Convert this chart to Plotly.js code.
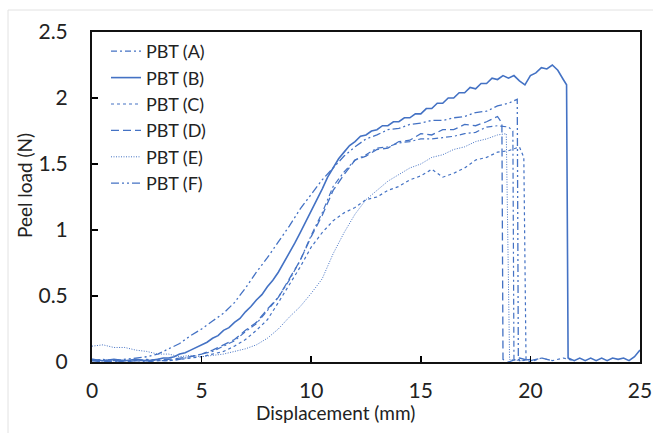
<!DOCTYPE html>
<html><head><meta charset="utf-8">
<script src="https://cdn.plot.ly/plotly-3.0.1.min.js"></script>
<style>html,body{margin:0;padding:0;background:#fff;}#chart{width:653px;height:433px;}</style>
</head><body><div id="chart"></div>
<script>
// Series names
const seriesNames = ["PBT (A)", "PBT (B)", "PBT (C)", "PBT (D)", "PBT (E)", "PBT (F)"];

// PBT (A)
const aX = [0,0.5,1,1.5,2,2.5,3,3.5,4,4.5,5,5.5,6,6.5,7,7.5,8,8.5,9,9.5,10,10.5,11,11.5,12,12.5,13,13.5,14,14.5,15,15.5,16,16.5,17,17.5,18,18.5,19,19.2,19.25,19.5,20];
const aY = [0.01,0.01,0.00,0.01,0.01,0.00,0.01,0.01,0.02,0.04,0.06,0.08,0.12,0.16,0.23,0.29,0.39,0.49,0.62,0.77,0.96,1.13,1.33,1.44,1.53,1.57,1.62,1.63,1.66,1.67,1.69,1.69,1.70,1.71,1.73,1.74,1.78,1.79,1.78,1.75,0.02,0.01,0.02];

// PBT (B)
const bX = [0,0.5,1,1.5,2,2.5,3,3.25,3.5,3.75,4,4.25,4.5,4.75,5,5.25,5.5,5.75,6,6.25,6.5,6.75,7,7.25,7.5,7.75,8,8.25,8.5,8.75,9,9.25,9.5,9.75,10,10.25,10.5,10.75,11,11.25,11.5,11.75,12,12.25,12.5,12.75,13,13.25,13.5,13.75,14,14.25,14.5,14.75,15,15.25,15.5,15.75,16,16.25,16.5,16.75,17,17.25,17.5,17.75,18,18.25,18.5,18.75,19,19.25,19.5,19.75,20,20.25,20.5,20.75,21,21.25,21.5,21.65,21.72,22,22.25,22.5,22.75,23,23.25,23.5,23.75,24,24.25,24.5,24.75,25];
const bY = [0.02,0.01,0.02,0.01,0.02,0.01,0.02,0.03,0.03,0.04,0.06,0.07,0.09,0.11,0.13,0.15,0.18,0.20,0.24,0.26,0.30,0.33,0.38,0.42,0.47,0.51,0.57,0.62,0.68,0.75,0.82,0.90,0.98,1.06,1.14,1.23,1.31,1.40,1.47,1.54,1.59,1.64,1.67,1.71,1.72,1.75,1.76,1.79,1.79,1.82,1.82,1.85,1.85,1.88,1.88,1.92,1.92,1.96,1.96,2.00,2.00,2.04,2.04,2.08,2.07,2.11,2.11,2.15,2.14,2.17,2.15,2.17,2.13,2.10,2.17,2.19,2.23,2.22,2.25,2.21,2.14,2.10,0.03,0.01,0.03,0.01,0.03,0.01,0.03,0.01,0.03,0.02,0.03,0.01,0.04,0.09];

// PBT (C)
const cX = [0,0.5,1,1.5,2,2.5,3,3.5,4,4.5,5,5.5,6,6.5,7,7.5,8,8.5,9,9.5,10,10.5,11,11.5,12,12.5,13,13.5,14,14.5,15,15.5,16,16.5,17,17.5,18,18.5,19,19.5,19.7,19.8,20,20.5,21,21.5,22];
const cY = [0.02,0.01,0.02,0.01,0.01,0.02,0.01,0.01,0.02,0.03,0.04,0.06,0.08,0.12,0.17,0.24,0.32,0.45,0.58,0.72,0.87,0.98,1.07,1.13,1.17,1.23,1.25,1.30,1.33,1.38,1.41,1.46,1.40,1.43,1.47,1.53,1.55,1.59,1.60,1.63,1.55,0.02,0.00,0.03,0.01,0.03,0.01];

// PBT (D)
const dX = [0,0.5,1,1.5,2,2.5,3,3.5,4,4.5,5,5.5,6,6.5,7,7.5,8,8.5,9,9.5,10,10.5,11,11.5,12,12.5,13,13.5,14,14.5,15,15.5,16,16.5,17,17.5,18,18.5,18.7,18.75,19,19.5,20,20.5,21];
const dY = [0.01,0.00,0.01,0.00,0.01,0.01,0.02,0.02,0.03,0.04,0.06,0.09,0.13,0.17,0.24,0.30,0.40,0.49,0.63,0.77,0.95,1.11,1.30,1.42,1.53,1.56,1.61,1.62,1.67,1.68,1.73,1.72,1.76,1.76,1.80,1.79,1.82,1.86,1.81,0.02,0.00,0.03,0.01,0.03,0.01];

// PBT (E)
const eX = [0,0.5,1,1.5,2,2.5,3,3.5,4,4.5,5,5.5,6,6.5,7,7.5,8,8.5,9,9.5,10,10.5,11,11.5,12,12.5,13,13.5,14,14.5,15,15.5,16,16.5,17,17.5,18,18.5,18.9,19.05,19.5,20];
const eY = [0.12,0.13,0.11,0.11,0.09,0.08,0.06,0.06,0.04,0.05,0.04,0.05,0.06,0.08,0.10,0.13,0.18,0.25,0.34,0.42,0.52,0.63,0.82,0.98,1.12,1.23,1.30,1.37,1.42,1.47,1.50,1.55,1.57,1.61,1.63,1.67,1.69,1.72,1.73,0.02,0.01,0.02];

// PBT (F)
const fX = [0,0.5,1,1.5,2,2.5,3,3.5,4,4.5,5,5.5,6,6.5,7,7.5,8,8.5,9,9.5,10,10.5,11,11.5,12,12.5,13,13.5,14,14.5,15,15.5,16,16.5,17,17.5,18,18.5,19,19.4,19.45,19.6,20];
const fY = [0.01,0.02,0.01,0.02,0.03,0.04,0.06,0.10,0.14,0.20,0.25,0.31,0.37,0.45,0.56,0.68,0.79,0.91,1.03,1.16,1.27,1.38,1.47,1.56,1.63,1.69,1.72,1.76,1.77,1.80,1.81,1.83,1.83,1.85,1.86,1.89,1.90,1.94,1.96,1.99,0.02,0.01,0.02];

const xTicks = [0,5,10,15,20,25];
const yTicks = [0,0.5,1,1.5,2,2.5];

const blue = '#4472C4';
const FONT = 'Lato, "Open Sans", sans-serif';

const traces = [
  {x:aX, y:aY, name:seriesNames[0], line:{color:blue, width:1.2, dash:'6px,3px,2px,3px'}},
  {x:bX, y:bY, name:seriesNames[1], line:{color:blue, width:1.6}},
  {x:cX, y:cY, name:seriesNames[2], line:{color:blue, width:1.2, dash:'3px,3px'}},
  {x:dX, y:dY, name:seriesNames[3], line:{color:blue, width:1.3, dash:'8px,4px'}},
  {x:eX, y:eY, name:seriesNames[4], line:{color:blue, width:1, dash:'1px,1.5px'}},
  {x:fX, y:fY, name:seriesNames[5], line:{color:blue, width:1.3, dash:'8px,3px,2px,3px,2px,3px'}}
].map(t => Object.assign({type:'scatter', mode:'lines'}, t));

// pixel helpers for paper coords of plot area (l=92, r=640, t=32, b=362)
const px2x = p => (p - 92) / 548;
const px2y = p => (362 - p) / 330;

const layout = {
  width:653, height:433,
  margin:{l:92, r:13, t:32, b:71, pad:0},
  paper_bgcolor:'#fff', plot_bgcolor:'#fff',
  font:{family:FONT, color:'#222', size:19},
  showlegend:true,
  legend:{x:px2x(106), y:px2y(33), xanchor:'left', yanchor:'top', bgcolor:'rgba(0,0,0,0)', borderwidth:0, font:{family:FONT, size:18, color:'#222'}, itemwidth:30, tracegroupgap:0},
  xaxis:{range:[0,25], tickvals:xTicks, ticktext:xTicks.map(String), ticks:'inside', ticklen:6, tickwidth:1.5, tickcolor:'#000', showline:true, mirror:true, linecolor:'#111', linewidth:2, showgrid:false, zeroline:false, tickfont:{family:FONT, size:21, color:'#222'}, ticklabelstandoff:9, fixedrange:true},
  yaxis:{range:[0,2.5], tickvals:yTicks, ticktext:yTicks.map(String), ticks:'inside', ticklen:6, tickwidth:1.5, tickcolor:'#000', showline:true, mirror:true, linecolor:'#111', linewidth:2, showgrid:false, zeroline:false, tickfont:{family:FONT, size:21, color:'#222'}, ticklabelstandoff:18, fixedrange:true},
  annotations:[
    {text:'Displacement (mm)', xref:'paper', yref:'paper', x:px2x(335), y:px2y(412), xanchor:'center', yanchor:'middle', showarrow:false, font:{family:FONT, size:19, color:'#222'}},
    {text:'Peel load (N)', xref:'paper', yref:'paper', x:px2x(24), y:px2y(186), xanchor:'center', yanchor:'middle', textangle:-90, showarrow:false, font:{family:FONT, size:19, color:'#222'}}
  ],
  shapes:[
    {type:'line', xref:'paper', yref:'paper', x0:px2x(8), x1:px2x(660), y0:px2y(10), y1:px2y(10), line:{color:'#e2e2e2', width:1}},
    {type:'line', xref:'paper', yref:'paper', x0:px2x(8), x1:px2x(8), y0:px2y(10), y1:px2y(440), line:{color:'#e2e2e2', width:1}}
  ]
};

Plotly.newPlot('chart', traces, layout, {displayModeBar:false, staticPlot:true});
</script></body></html>
